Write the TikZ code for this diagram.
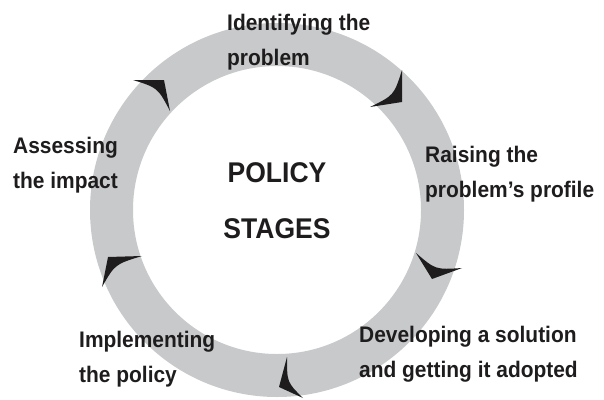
\documentclass[tikz,border=0pt]{standalone}
\usepackage{fontspec}
\setmainfont{Liberation Sans}[FakeStretch=0.93]
\usetikzlibrary{calc}
\definecolor{ringgray}{RGB}{200,201,203}
\definecolor{arrowblack}{RGB}{30,28,29}
\tikzset{
  lbl/.style={anchor=base west, inner sep=0pt, font=\fontsize{22.5}{26}\selectfont\bfseries, text=arrowblack},
  title/.style={anchor=base, inner sep=0pt, font=\fontsize{28.5}{33}\selectfont\bfseries, text=arrowblack},
  barb/.style={fill=arrowblack}
}
\newcommand{\barbhead}[3]{%
  \fill[barb] #1 -- #2 -- #3 .. controls ($($#1!0.5!#3$)!0.5!#2$) .. #1 -- cycle;}
\begin{document}
\begin{tikzpicture}[x=1pt,y=-1pt]
\useasboundingbox (0,0) rectangle (604,399);
% ring
\fill[ringgray, even odd rule] (277,210) circle[radius=187pt] (277,210) circle[radius=144pt];
% arrowheads (barb, tip, barb)
\barbhead{(402,70)}{(402,102)}{(370,107)}
\barbhead{(416,253)}{(432,279)}{(462,268)}
\barbhead{(287,357)}{(279,387)}{(303,398)}
\barbhead{(142,256)}{(108,257)}{(102,287)}
\barbhead{(133,80)}{(164,80)}{(170,111)}
% centre title
\node[title] (t1) at (277,182) {POLICY};
\node[title] (t2) at (277,238) {STAGES};
% stage labels
\node[lbl] (s1a) at (227,30) {Identifying the};
\node[lbl] (s1b) at (227,65) {problem};
\node[lbl] (s2a) at (425,162) {Raising the};
\node[lbl] (s2b) at (425,197) {problem’s profile};
\node[lbl] (s3a) at (359,342) {Developing a solution};
\node[lbl] (s3b) at (359,377) {and getting it adopted};
\node[lbl] (s4a) at (79,347) {Implementing};
\node[lbl] (s4b) at (79,382) {the policy};
\node[lbl] (s5a) at (13,153) {Assessing};
\node[lbl] (s5b) at (13,188) {the impact};
\end{tikzpicture}
\end{document}
